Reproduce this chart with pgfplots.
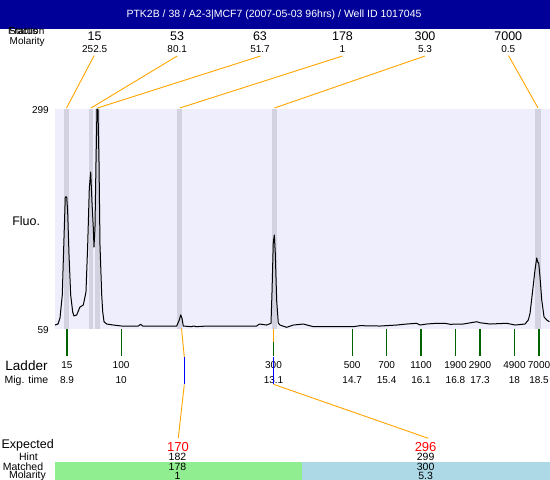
\documentclass[border=0pt]{standalone}
\usepackage{fontspec}
\setmainfont{Liberation Sans}
\usepackage{pgfplots}
\pgfplotsset{compat=1.18}
\definecolor{hdr}{HTML}{000099}
\definecolor{lav}{HTML}{EEEEFC}
\definecolor{bandc}{HTML}{D2D2E0}
\definecolor{tickg}{HTML}{006400}
\definecolor{org}{HTML}{FFA500}
\definecolor{lgreen}{HTML}{90EE90}
\definecolor{lblue}{HTML}{ADD8E6}
\newcommand\fs[1]{\fontsize{#1}{#1}\selectfont}
\begin{document}
\begin{tikzpicture}
\begin{scope}[x=1pt,y=-1pt]
\fill[white] (0,0) rectangle (550,480);
\end{scope}
\begin{axis}[
  at={(55pt,-328.5pt)}, anchor=south west,
  scale only axis, width=495pt, height=219.5pt,
  xmin=8.656, xmax=18.723, ymin=59, ymax=299,
  axis line style={draw=none},
  axis background/.style={fill=lav},
  clip=false,
  tick align=outside, major tick length=27.5pt,
  xtick pos=bottom, ytick pos=left,
  xtick={8.9,10,13.1,14.7,15.4,16.1,16.8,17.3,18,18.5},
  xticklabels={{},{},{},{},{},{},{},{},{},{}},
  xtick style={draw=tickg, line width=1.1pt},
  ytick={59,299},
  ytick style={draw=none},
  yticklabel style={font=\fs{10}, anchor=east, inner sep=0pt, xshift=21.5pt, yshift=-1.5pt},
  /pgf/number format/assume math mode=true,
]
% peak bands
\fill[bandc] (axis cs:8.839,59) rectangle (axis cs:8.941,299);
\fill[bandc] (axis cs:9.347,59) rectangle (axis cs:9.429,299);
\fill[bandc] (axis cs:9.469,59) rectangle (axis cs:9.571,299);
\fill[bandc] (axis cs:11.144,59) rectangle (axis cs:11.246,299);
\fill[bandc] (axis cs:13.069,59) rectangle (axis cs:13.171,299);
\fill[bandc] (axis cs:18.428,59) rectangle (axis cs:18.530,299);
% trace
\addplot[black, line width=1pt, line join=round] coordinates {
(8.656,62.8) (8.717,63.9) (8.758,70.5) (8.804,95.6) (8.839,158.0) (8.865,202.8)
(8.894,202.8) (8.914,186.4) (8.941,139.4) (8.975,95.6) (9.016,77.0) (9.042,72.7)
(9.097,73.8) (9.164,82.5) (9.232,84.7) (9.286,98.9) (9.321,150.3) (9.354,212.6)
(9.382,230.1) (9.408,197.3) (9.435,168.9) (9.449,148.1) (9.469,168.9) (9.490,241.1)
(9.510,299) (9.530,299) (9.551,241.1) (9.571,150.3) (9.606,95.6) (9.626,77.4)
(9.653,66.4) (9.707,63.9) (9.842,62.8) (10.013,61.7) (10.350,61.7) (10.399,63.6)
(10.440,61.7) (10.791,61.7) (11.131,61.7) (11.184,68.3) (11.213,73.8) (11.239,70.2)
(11.265,61.7) (11.436,61.0) (11.469,61.7) (11.538,61.0) (11.741,61.7) (12.758,61.7)
(12.811,63.9) (12.961,62.8) (13.049,64.7) (13.069,97.8) (13.095,152.5) (13.116,161.2)
(13.136,141.6) (13.164,90.2) (13.197,65.0) (13.231,62.8) (13.368,60.3) (13.502,62.8)
(13.706,63.9) (13.909,61.0) (14.723,61.0) (14.859,62.1) (15.266,61.7) (15.606,62.8)
(15.809,63.9) (16.012,64.7) (16.079,62.8) (16.216,63.9) (16.419,64.7) (16.588,64.7)
(16.690,63.6) (16.960,63.9) (17.233,66.4) (17.300,65.3) (17.503,63.9) (17.843,64.7)
(18.012,62.8) (18.215,63.9) (18.282,68.3) (18.317,75.6) (18.372,101.1) (18.418,123.0)
(18.453,136.1) (18.473,131.7) (18.493,130.6) (18.520,115.3) (18.555,90.2) (18.602,71.6)
(18.657,68.3) (18.710,66.4)
};
% ladder labels
\begin{scope}[every node/.style={anchor=base, inner sep=0pt, font=\fs{10}}]
\node at (axis cs:8.9,59)  [yshift=-39.5pt] {15};
\node at (axis cs:10,59)   [yshift=-39.5pt] {100};
\node at (axis cs:13.1,59) [yshift=-39.5pt] {300};
\node at (axis cs:14.7,59) [yshift=-39.5pt] {500};
\node at (axis cs:15.4,59) [yshift=-39.5pt] {700};
\node at (axis cs:16.1,59) [yshift=-39.5pt] {1100};
\node at (axis cs:16.8,59) [yshift=-39.5pt] {1900};
\node at (axis cs:17.3,59) [yshift=-39.5pt] {2900};
\node at (axis cs:18,59)   [yshift=-39.5pt] {4900};
\node at (axis cs:18.5,59) [yshift=-39.5pt] {7000};
\node at (axis cs:8.9,59)  [yshift=-54.5pt] {8.9};
\node at (axis cs:10,59)   [yshift=-54.5pt] {10};
\node at (axis cs:13.1,59) [yshift=-54.5pt] {13.1};
\node at (axis cs:14.7,59) [yshift=-54.5pt] {14.7};
\node at (axis cs:15.4,59) [yshift=-54.5pt] {15.4};
\node at (axis cs:16.1,59) [yshift=-54.5pt] {16.1};
\node at (axis cs:16.8,59) [yshift=-54.5pt] {16.8};
\node at (axis cs:17.3,59) [yshift=-54.5pt] {17.3};
\node at (axis cs:18,59)   [yshift=-54.5pt] {18};
\node at (axis cs:18.5,59) [yshift=-54.5pt] {18.5};
\end{scope}
\coordinate (b15) at (axis cs:8.890,299);
\coordinate (b53) at (axis cs:9.388,299);
\coordinate (b63) at (axis cs:9.520,299);
\coordinate (b178) at (axis cs:11.195,299);
\coordinate (b300) at (axis cs:13.120,299);
\coordinate (b7000) at (axis cs:18.479,299);
\coordinate (l300) at (axis cs:13.1,59);
\end{axis}
\begin{scope}[x=1pt,y=-1pt]
% header
\fill[hdr] (0,0) rectangle (550,28.5);
\node[white, anchor=base, font=\fs{10.5}, inner sep=0pt] at (274,17.8) {PTK2B / 38 / A2-3|MCF7 (2007-05-03 96hrs) / Well ID 1017045};
\node[anchor=base west, font=\fs{10}, inner sep=0pt] at (8,34.3) {Fraction};
\node[anchor=base west, font=\fs{10}, inner sep=0pt] at (9,34.3) {Status};
\node[anchor=base, font=\fs{10}, inner sep=0pt] at (27.2,44.6) {Molarity};
% size labels
\begin{scope}[every node/.style={anchor=base, inner sep=0pt}]
\node[font=\fs{12.5}] at (94.7,40.6) {15};
\node[font=\fs{12.5}] at (177.2,40.6) {53};
\node[font=\fs{12.5}] at (260,40.6) {63};
\node[font=\fs{12.5}] at (342.5,40.6) {178};
\node[font=\fs{12.5}] at (425,40.6) {300};
\node[font=\fs{12.5}] at (508.3,40.6) {7000};
\node[font=\fs{10}] at (94.7,52.7) {252.5};
\node[font=\fs{10}] at (177.2,52.7) {80.1};
\node[font=\fs{10}] at (260,52.7) {51.7};
\node[font=\fs{10}] at (342.5,52.7) {1};
\node[font=\fs{10}] at (425,52.7) {5.3};
\node[font=\fs{10}] at (508.3,52.7) {0.5};
\node[font=\fs{12.5}] at (26.2,225.5) {Fluo.};
\node[font=\fs{13.5}] at (26.5,370.9) {Ladder};
\node[font=\fs{10.5}] at (26.4,383) {Mig. time};
\end{scope}
% connectors top
\begin{scope}[org, line width=0.9pt]
\draw (94.2,55.5) -- ([yshift=1pt]b15);
\draw (177.2,56) -- ([yshift=1pt]b53);
\draw (260.5,56) -- ([yshift=1pt]b63);
\draw (342.5,56) -- ([yshift=1pt]b178);
\draw (425,56) -- ([yshift=1pt]b300);
\draw (508.5,55.5) -- ([yshift=1pt]b7000);
\end{scope}
% expected connectors
\draw[org, line width=0.9pt] (181.5,328.5) -- (184.3,357);
\draw[blue, line width=0.9pt] (184.3,357) -- (184.3,384.3);
\draw[org, line width=0.9pt] (184.3,384.3) -- (178.3,438);
\draw[org, line width=0.9pt] (l300) -- ++(0,13.5);
\draw[blue, line width=0.9pt] ([yshift=-28.5pt]l300) -- ++(0,27.3);
\draw[org, line width=0.9pt] ([yshift=-55.8pt]l300) -- (428.3,438.3);
% expected section
\fill[lgreen] (55,461.6) rectangle (302,480);
\fill[lblue] (302,461.6) rectangle (550,480);
\begin{scope}[every node/.style={anchor=base, inner sep=0pt}]
\node[font=\fs{12.5}] at (27.7,448.2) {Expected};
\node[font=\fs{10.5}] at (28.5,460.2) {Hint};
\node[font=\fs{10.5}] at (23,470.4) {Matched};
\node[font=\fs{10.5}] at (27.4,478.8) {Molarity};
\node[font=\fs{13}, text=red] at (178,451.3) {170};
\node[font=\fs{13}, text=red] at (425.6,451.3) {296};
\node[font=\fs{10.5}] at (177.5,460.2) {182};
\node[font=\fs{10.5}] at (177.5,470.4) {178};
\node[font=\fs{10.5}] at (177.5,479.3) {1};
\node[font=\fs{10.5}] at (425.6,460.2) {299};
\node[font=\fs{10.5}] at (425.6,470.4) {300};
\node[font=\fs{10.5}] at (425.6,479.3) {5.3};
\end{scope}
\end{scope}
\pgfresetboundingbox
\path[use as bounding box] (0pt,0pt) rectangle (550pt,-480pt);
\end{tikzpicture}
\end{document}
